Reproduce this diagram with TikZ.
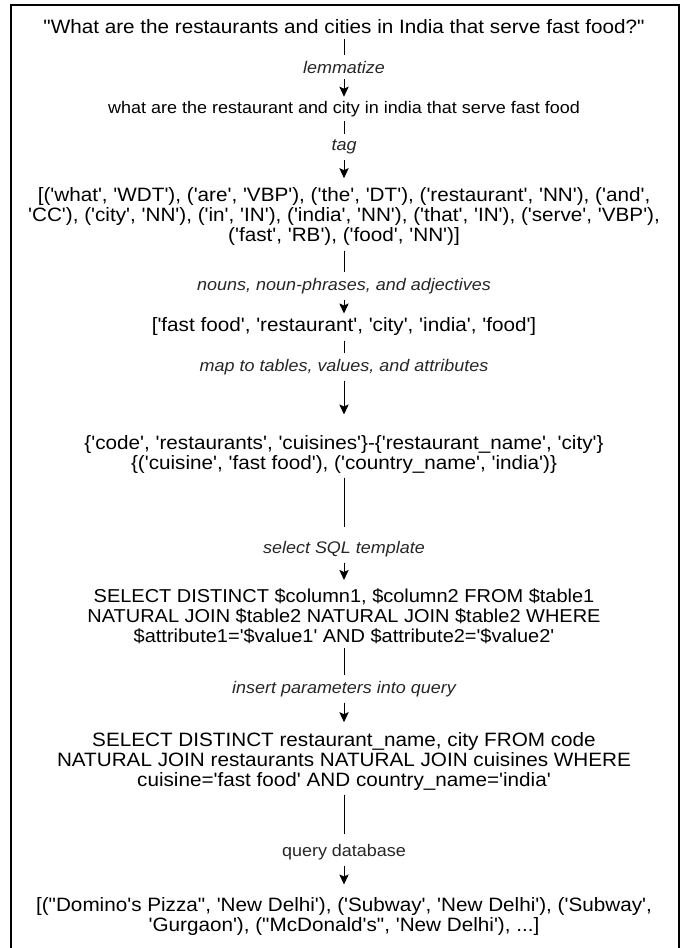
\documentclass[tikz,border=0pt]{standalone}
\usepackage{fontspec}
\setmainfont{Liberation Sans}[Ligatures=TeXOff, FakeStretch=1.07]
\usetikzlibrary{arrows.meta}

\tikzset{every picture/.style={line width=0.75pt}}

\begin{document}
\begin{tikzpicture}[x=0.75pt,y=0.75pt,yscale=-1,
  stage/.style={align=center, inner sep=3pt, font=\fontsize{14.5}{15}\selectfont},
  sqlstage/.style={stage, font=\fontsize{14}{15}\selectfont},
  lemmastage/.style={stage, font=\fontsize{12.6}{15}\selectfont},
  op/.style={inner sep=4pt, text=black!85, font=\fontsize{12.6}{14}\selectfont\itshape},
  flow/.style={-{Stealth[length=7.5pt,width=7pt,inset=1.5pt]}}]

\useasboundingbox (0,0) rectangle (686,948);
\draw [line width=1.5] (11,960) -- (11,5) -- (679,5) -- (679,960);

% stages
\node [stage] (question) at (344,27) {"What are the restaurants and cities in India that serve fast food?"};
\node [lemmastage] (lemmas) at (344,109) {what are the restaurant and city in india that serve fast food};
\node [stage] (tagged) at (344,217) {[('what', 'WDT'), ('are', 'VBP'), ('the', 'DT'), ('restaurant', 'NN'), ('and',\\
'CC'), ('city', 'NN'), ('in', 'IN'), ('india', 'NN'), ('that', 'IN'), ('serve', 'VBP'),\\
('fast', 'RB'), ('food', 'NN')]};
\node [stage] (keywords) at (344,327) {['fast food', 'restaurant', 'city', 'india', 'food']};
\node [stage] (mapped) at (344,454) {\{'code', 'restaurants', 'cuisines'\}-\{'restaurant\_name', 'city'\}\\
\{('cuisine', 'fast food'), ('country\_name', 'india')\}};
\node [sqlstage] (template) at (344,616) {SELECT DISTINCT \$column1, \$column2 FROM \$table1\\
NATURAL JOIN \$table2 NATURAL JOIN \$table2 WHERE\\
\$attribute1='\$value1' AND \$attribute2='\$value2'};
\node [stage] (query) at (344,761) {SELECT DISTINCT restaurant\_name, city FROM code\\
NATURAL JOIN restaurants NATURAL JOIN cuisines WHERE\\
cuisine='fast food' AND country\_name='india'};
\node [stage] (result) at (344,916) {[("Domino's Pizza", 'New Delhi'), ('Subway', 'New Delhi'), ('Subway',\\
'Gurgaon'), ("McDonald's", 'New Delhi'), ...]};

% operations
\node [op] (lemmatize) at (344,67) {lemmatize};
\node [op] (tag) at (344,147) {tag};
\node [op] (nouns) at (344,286) {nouns, noun-phrases, and adjectives};
\node [op] (map) at (344,367) {map to tables, values, and attributes};
\node [op] (pick) at (344,549) {select SQL template};
\node [op] (insert) at (344,689) {insert parameters into query};
\node [op, font=\fontsize{12.6}{14}\selectfont] (run) at (344,852) {query database};

% connectors
\draw (question) -- (lemmatize);
\draw [flow] (lemmatize) -- (lemmas);
\draw (lemmas) -- (tag);
\draw [flow, shorten >=4pt] (tag) -- (tagged);
\draw (tagged) -- (nouns);
\draw [flow] (nouns) -- (keywords);
\draw (keywords) -- (map);
\draw [flow, shorten >=12pt] (map) -- (mapped);
\draw [shorten >=6pt] (mapped) -- (pick);
\draw [flow, shorten >=3pt] (pick) -- (template);
\draw (template) -- (insert);
\draw [flow, shorten >=4pt] (insert) -- (query);
\draw [shorten >=3pt] (query) -- (run);
\draw [flow, shorten >=6pt] (run) -- (result);

\end{tikzpicture}
\end{document}
